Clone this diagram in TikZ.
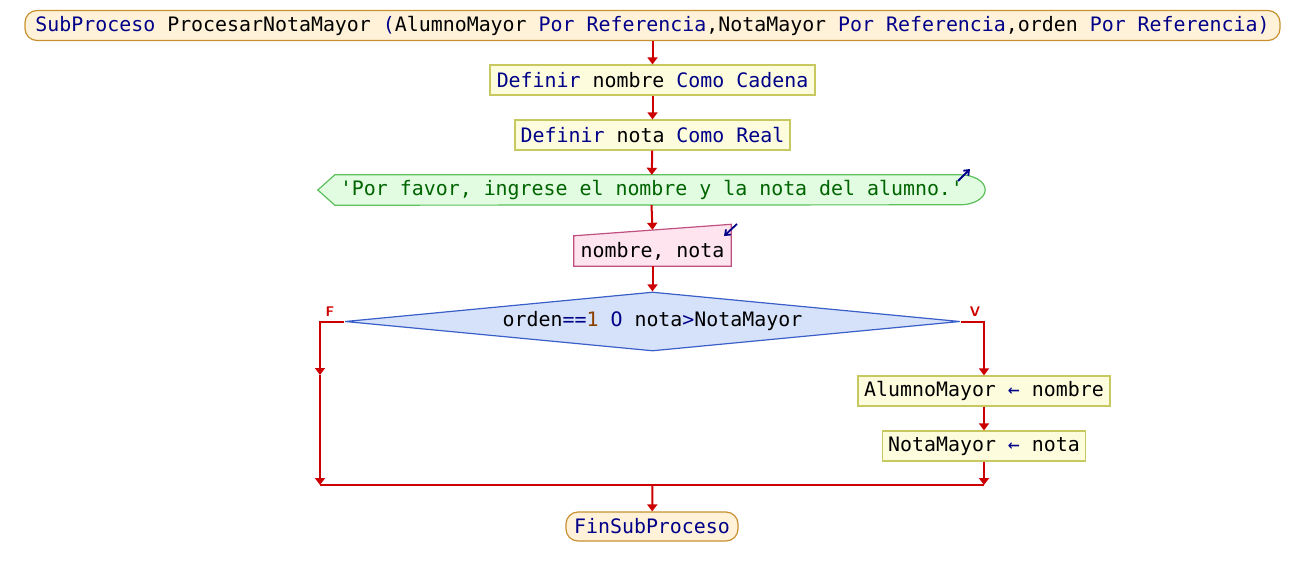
\documentclass[tikz,border=0pt]{standalone}
\usepackage{fontspec}
\setmonofont{DejaVu Sans Mono}
\usetikzlibrary{shapes.geometric,arrows.meta,backgrounds}
\definecolor{kwc}{HTML}{000088}
\definecolor{strc}{HTML}{006400}
\definecolor{numc}{HTML}{8B4000}
\definecolor{arrowred}{HTML}{CC0000}
\definecolor{termfill}{HTML}{FFF2D9}
\definecolor{termborder}{HTML}{C8902F}
\definecolor{procfill}{HTML}{FDFDDE}
\definecolor{procborder}{HTML}{C8C860}
\definecolor{outfill}{HTML}{E2FCE2}
\definecolor{outborder}{HTML}{5CBF5C}
\definecolor{infill}{HTML}{FDE4EE}
\definecolor{inborder}{HTML}{C0507F}
\definecolor{dfill}{HTML}{D6E2FA}
\definecolor{dborder}{HTML}{3A5FC8}
\newcommand\kwd[1]{\textcolor{kwc}{#1}}
\newcommand\strc[1]{\textcolor{strc}{#1}}
\newcommand\numcol[1]{\textcolor{numc}{#1}}
\tikzset{
  txt/.style={font=\ttfamily\fontsize{19.9}{24}\selectfont, inner sep=0pt},
  flowline/.style={draw=arrowred, line width=2pt, -{Triangle[width=10pt,length=7pt]}},
  redline/.style={draw=arrowred, line width=2pt},
  term/.style={txt, rounded corners=12pt, draw=termborder, fill=termfill, line width=1.2pt, minimum height=30pt},
  procbox/.style={txt, draw=procborder, fill=procfill, line width=1.2pt, minimum height=30pt},
  lbl/.style={font=\sffamily\bfseries\fontsize{14}{15}\selectfont, text=arrowred, inner sep=0pt},
  icon/.style={draw=kwc, line width=1.8pt, -{Straight Barb[width=7pt,length=4.5pt]}},
}
\begin{document}
\begin{tikzpicture}[x=1pt,y=-1pt]
\useasboundingbox (0,0) rectangle (1304,576);

\node[term, minimum width=1255pt] (start) at (652.5,25.5)
  {\kwd{SubProceso} ProcesarNotaMayor \kwd{(}AlumnoMayor \kwd{Por Referencia},NotaMayor \kwd{Por Referencia},orden \kwd{Por Referencia}\kwd{)}};
\node[procbox, minimum width=325pt] (def1) at (652.5,80) {\kwd{Definir} nombre \kwd{Como} \kwd{Cadena}};
\node[procbox, minimum width=275pt] (def2) at (652.5,135) {\kwd{Definir} nota \kwd{Como} \kwd{Real}};
\node[txt, minimum width=667pt, minimum height=30pt] (out) at (651.5,190)
  {\strc{'Por favor, ingrese el nombre y la nota del alumno.'}};
\node[txt, minimum width=157pt, minimum height=30pt] (inp) at (652.5,251) {nombre, nota};
\node[txt, diamond, draw=dborder, fill=dfill, line width=1.2pt, minimum width=615pt, minimum height=59pt] (cond) at (652.5,321.5)
  {\makebox[0pt]{orden\kwd{==}\numcol{1} \kwd{O} nota\kwd{>}NotaMayor}};
\node[procbox, minimum width=252pt] (am) at (984,391) {AlumnoMayor \kwd{←} nombre};
\node[procbox, minimum width=203pt] (nm) at (984,446) {NotaMayor \kwd{←} nota};
\node[term, minimum width=172pt, minimum height=29pt] (fin) at (652,526.5) {\kwd{FinSubProceso}};

\begin{scope}[on background layer]
  \draw[draw=outborder, fill=outfill, line width=1.2pt]
    (out.west) -- ([xshift=17pt]out.north west) -- ([xshift=-25pt]out.north east)
    arc[start angle=90, end angle=-90, x radius=25pt, y radius=15pt]
    -- ([xshift=17pt]out.south west) -- cycle;
  \draw[draw=inborder, fill=infill, line width=1.2pt]
    (inp.south west) -- (inp.north west) -- ([yshift=11.5pt]inp.north east) -- (inp.south east) -- cycle;
\end{scope}

\coordinate (ico1a) at (958,181);
\coordinate (ico1b) at (970,169);
\coordinate (ico2a) at (737,224);
\coordinate (ico2b) at (724,236);
\draw[icon] (ico1a) -- (ico1b);
\draw[icon] (ico2a) -- (ico2b);

\coordinate (fcorner) at (320,321.5);
\coordinate (fmid) at (320,375);
\coordinate (joinL) at (320,485);
\coordinate (vcorner) at (984,321.5);
\coordinate (joinR) at (984,485);
\coordinate (joinC) at (652.5,485);

\draw[flowline] (start) -- (def1);
\draw[flowline] (def1) -- (def2);
\draw[flowline] (def2) -- (out);
\draw[flowline] (out.south) -- ([yshift=6pt]inp.north);
\draw[flowline] (inp) -- (cond);
\draw[flowline] (cond.west) -- (fcorner) -- (fmid);
\draw[flowline] (fmid) -- (joinL);
\draw[flowline] (cond.east) -- (vcorner) -- (am.north);
\draw[flowline] (am) -- (nm);
\draw[flowline] (nm) -- (joinR);
\draw[redline] (joinL) -- (joinR);
\draw[flowline] (joinC) -- (fin);

\node[lbl] (flab) at (330,312) {F};
\node[lbl] (vlab) at (975,312) {V};
\end{tikzpicture}
\end{document}
